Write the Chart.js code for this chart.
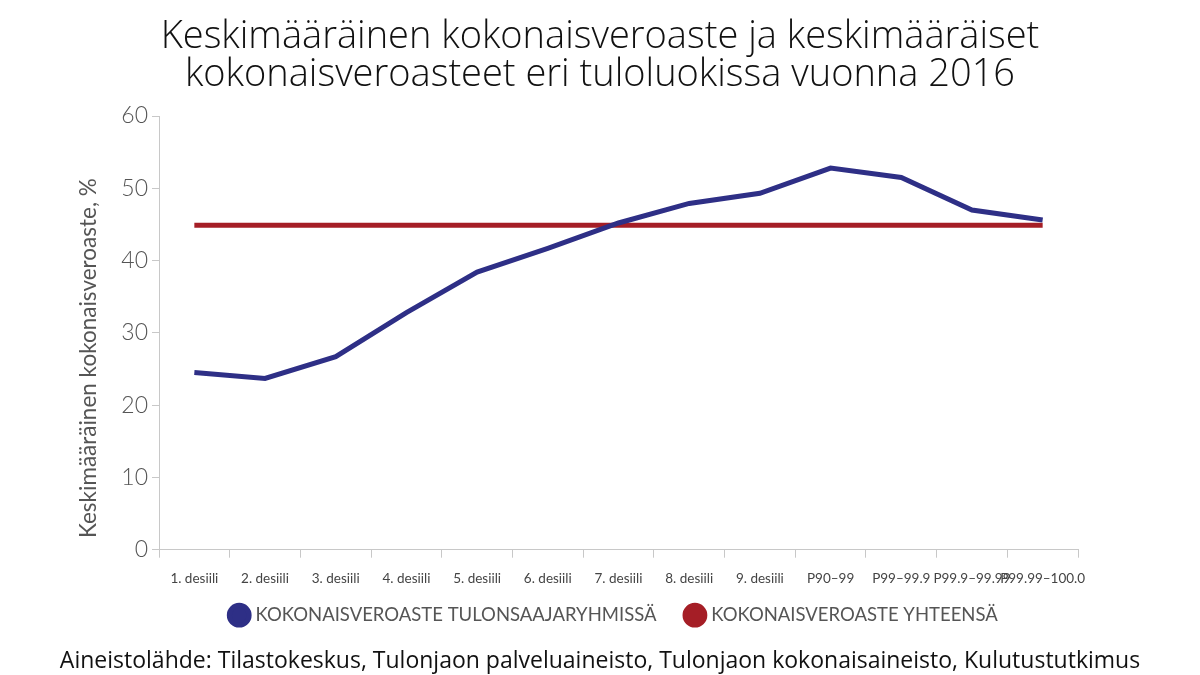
<!DOCTYPE html>
<html>
<head>
<meta charset="utf-8">
<script src="https://cdn.jsdelivr.net/npm/chart.js@4/dist/chart.umd.min.js"></script>
<style>
  html, body { margin: 0; padding: 0; background: #fff; }
  #wrap { width: 1200px; height: 675px; }
</style>
</head>
<body>
<div id="wrap"><canvas id="chart" width="1200" height="675"></canvas></div>
<script>
// ==================== 数据 ====================
const categories = ['1. desiili', '2. desiili', '3. desiili', '4. desiili', '5. desiili', '6. desiili',
    '7. desiili', '8. desiili', '9. desiili', 'P90–99', 'P99–99.9', 'P99.9–99.99', 'P99.99–100.0']
const groupRates = [24.5, 23.7, 26.7, 32.8, 38.4, 41.7, 45.2, 47.9, 49.3, 52.8, 51.5, 47.0, 45.6]
const totalRate = [44.9, 44.9, 44.9, 44.9, 44.9, 44.9, 44.9, 44.9, 44.9, 44.9, 44.9, 44.9, 44.9]
const seriesNames = ['KOKONAISVEROASTE TULONSAAJARYHMISSÄ', 'KOKONAISVEROASTE YHTEENSÄ']
const yTicks = [0, 10, 20, 30, 40, 50, 60]

const FONT = 'Lato, "Open Sans", sans-serif'
const TITLE_FONT = '"Open Sans", Lato, sans-serif'
const BLUE = '#2E2F86'
const RED = '#A51E26'

// legend sits a little right of centre in the original
const legendShift = {
    id: 'legendShift',
    afterLayout: (chart) => {
        chart.legend.left += 15
        chart.legend.right += 15
    }
}

new Chart(document.getElementById('chart'), {
    type: 'line',
    data: {
        labels: categories,
        datasets: [{
            label: seriesNames[0],
            data: groupRates,
            borderColor: BLUE,
            backgroundColor: BLUE,
            borderWidth: 5,
            pointRadius: 0,
            tension: 0
        }, {
            label: seriesNames[1],
            data: totalRate,
            borderColor: RED,
            backgroundColor: RED,
            borderWidth: 5,
            pointRadius: 0,
            tension: 0
        }]
    },
    plugins: [legendShift],
    options: {
        responsive: false,
        animation: false,
        layout: { padding: 0 },
        plugins: {
            title: {
                display: true,
                text: ['Keskimääräinen kokonaisveroaste ja keskimääräiset', 'kokonaisveroasteet eri tuloluokissa vuonna 2016'],
                color: '#111',
                font: { family: TITLE_FONT, size: 38, weight: 300, lineHeight: 1.0 },
                padding: { top: 18, bottom: 22 }
            },
            subtitle: {
                display: true,
                position: 'bottom',
                text: 'Aineistolähde: Tilastokeskus, Tulonjaon palveluaineisto, Tulonjaon kokonaisaineisto, Kulutustutkimus',
                color: '#111',
                font: { family: TITLE_FONT, size: 23, weight: 400 },
                padding: { top: 13, bottom: 0 }
            },
            legend: {
                position: 'bottom',
                labels: {
                    usePointStyle: true,
                    pointStyle: 'circle',
                    boxWidth: 14,
                    boxHeight: 14,
                    padding: 6,
                    color: '#555',
                    font: { family: FONT, size: 18.5 },
                    // 项间距: wide gap after the first label only
                    generateLabels: (chart) => Chart.defaults.plugins.legend.labels.generateLabels(chart)
                        .map((item, i) => ({ ...item, text: i === 0 ? item.text + '\u2003\u2002\u2009' : item.text }))
                }
            },
            tooltip: { enabled: false }
        },
        scales: {
            x: {
                offset: true,
                grid: {
                    offset: true,
                    drawOnChartArea: false,
                    color: '#c8c8c8',
                    tickLength: 8
                },
                border: { color: '#c8c8c8' },
                ticks: {
                    color: '#444',
                    font: { family: FONT, size: 13.5 },
                    maxRotation: 0,
                    autoSkip: false,
                    padding: 13
                }
            },
            y: {
                min: 0,
                max: 60,
                afterBuildTicks: (axis) => { axis.ticks = yTicks.map(v => ({ value: v })) },
                afterFit: (axis) => { axis.width = 159 },
                grid: {
                    drawOnChartArea: false,
                    color: '#c8c8c8',
                    tickLength: 7
                },
                border: { color: '#c8c8c8' },
                ticks: {
                    color: '#555',
                    font: { family: FONT, size: 23, weight: 300 },
                    padding: 4
                },
                title: {
                    display: true,
                    // trailing spaces push the rotated title down like in the original
                    text: 'Keskimääräinen kokonaisveroaste, %\u2003\u2003\u2003',
                    color: '#555',
                    font: { family: FONT, size: 22.5 },
                    padding: { top: 75, bottom: 4 }
                }
            },
            // empty right axis, only reserves the right margin
            yRight: {
                position: 'right',
                afterFit: (axis) => { axis.width = 122 },
                grid: { display: false },
                border: { display: false },
                ticks: { display: false }
            }
        }
    }
})
</script>
</body>
</html>
